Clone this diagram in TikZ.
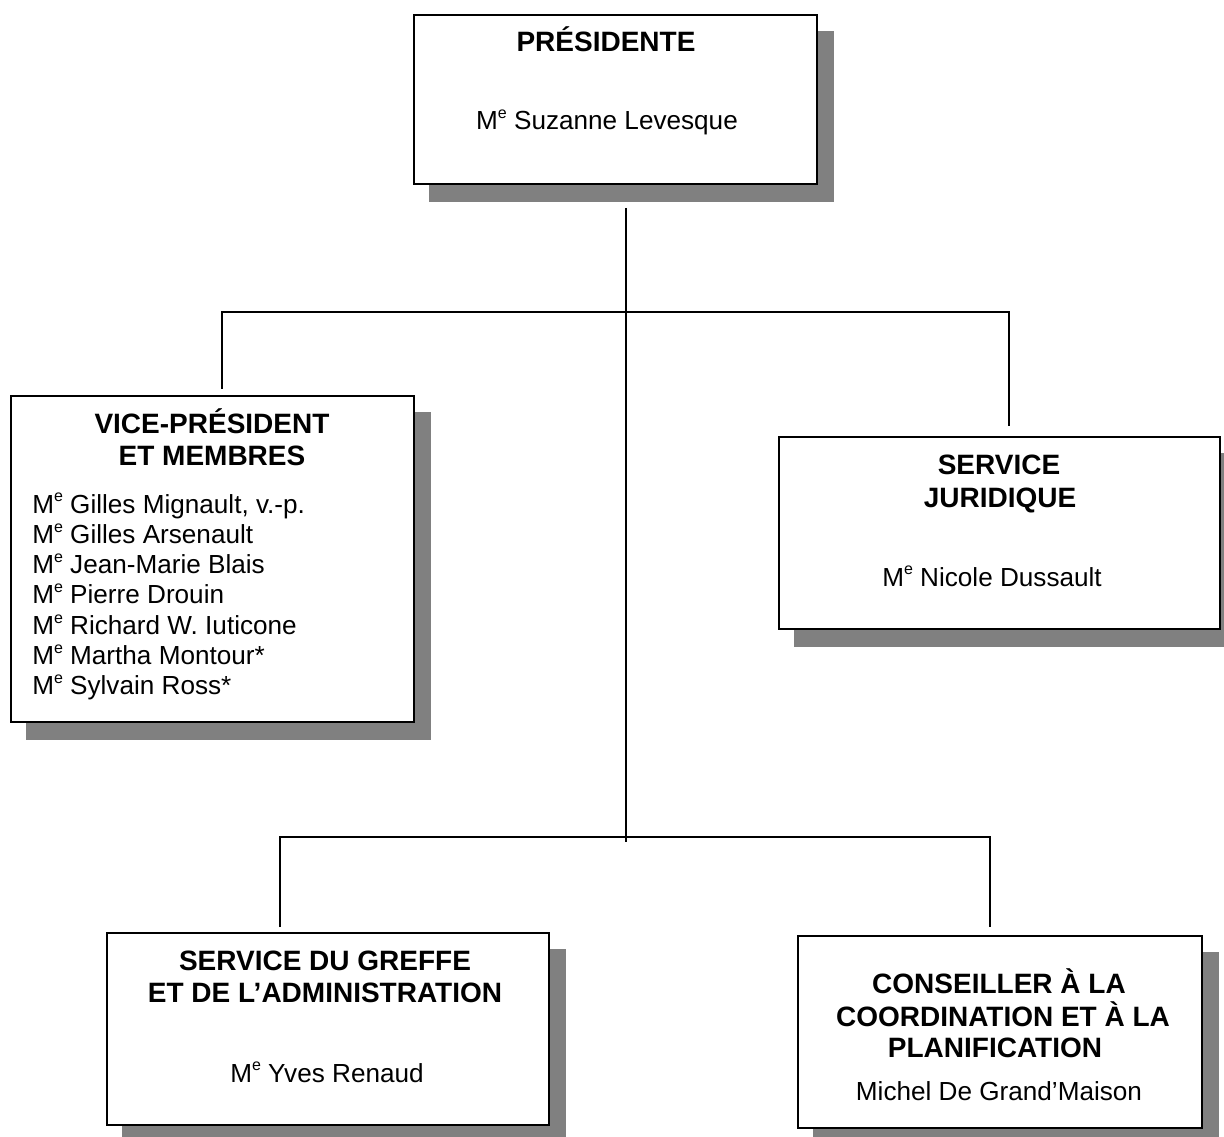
\documentclass[tikz,border=0pt]{standalone}
\usepackage{fontspec}
\setmainfont{Liberation Sans}
\usetikzlibrary{fit,backgrounds,calc}
\definecolor{shadowgray}{RGB}{128,128,128}
\newcommand{\Me}{M\raisebox{8.4pt}{\fontsize{12}{12}\selectfont e}}
\tikzset{
  box/.style={draw=black, line width=1.5pt, fill=white, inner sep=0pt},
  conn/.style={line width=2.2pt, draw=black, line join=miter},
  hd/.style={anchor=base, font=\fontsize{21}{25}\selectfont\bfseries, inner sep=0pt},
  nm/.style={anchor=base, font=\fontsize{19.6}{23}\selectfont, inner sep=0pt},
  lst/.style={anchor=base west, font=\fontsize{19.6}{23}\selectfont, inner sep=0pt},
  boxshadow/.style={fill=shadowgray, draw=none},
}
\begin{document}
\begin{tikzpicture}[x=0.75pt, y=-0.75pt]
\useasboundingbox (0,0) rectangle (1224,1137);

% boxes
\node[box, fit={(414,15) (817,184)}] (pres) {};
\node[box, fit={(11,396) (414,722)}] (vp) {};
\node[box, fit={(779,437) (1220,629)}] (jur) {};
\node[box, fit={(107,933) (549,1125)}] (gre) {};
\node[box, fit={(798,936) (1202,1128)}] (con) {};

\begin{scope}[on background layer]
  \foreach \n in {pres,vp,jur,gre,con}
    \path[boxshadow] ($(\n.south west)+(16,17)$) rectangle ($(\n.north east)+(16,17)$);
\end{scope}

% texts
\node[hd] (presT) at (606,52) {PRÉSIDENTE};
\node[nm] (presN) at (607,130) {\Me{} Suzanne Levesque};

\node[hd] (vpT1) at (212,433) {VICE-PRÉSIDENT};
\node[hd] (vpT2) at (212,465) {ET MEMBRES};
\node[lst] (vp1) at (32,513) {\Me{} Gilles Mignault, v.-p.};
\node[lst] (vp2) at (32,543.3) {\Me{} Gilles Arsenault};
\node[lst] (vp3) at (32,573.6) {\Me{} Jean-Marie Blais};
\node[lst] (vp4) at (32,603.9) {\Me{} Pierre Drouin};
\node[lst] (vp5) at (32,634.2) {\Me{} Richard W. Iuticone};
\node[lst] (vp6) at (32,664.5) {\Me{} Martha Montour*};
\node[lst] (vp7) at (32,694.8) {\Me{} Sylvain Ross*};

\node[hd] (jurT1) at (999,474) {SERVICE};
\node[hd] (jurT2) at (1000,507) {JURIDIQUE};
\node[nm] (jurN) at (992,586) {\Me{} Nicole Dussault};

\node[hd] (greT1) at (325,970) {SERVICE DU GREFFE};
\node[hd] (greT2) at (325,1002) {ET DE L’ADMINISTRATION};
\node[nm] (greN) at (327,1082) {\Me{} Yves Renaud};

\node[hd] (conT1) at (999,993) {CONSEILLER À LA};
\node[hd] (conT2) at (1003,1026) {COORDINATION ET À LA};
\node[hd] (conT3) at (995,1057) {PLANIFICATION};
\node[nm] (conN) at (999,1100) {Michel De Grand’Maison};

% connectors
\coordinate (t0) at (626,208);
\coordinate (t1) at (626,842);
\coordinate (bl) at (222,312);
\coordinate (br) at (1009,312);
\coordinate (cl) at (280,837);
\coordinate (cr) at (990,837);

\draw[conn] (t0) -- (t1);
\draw[conn] ($(vp.north -| bl)+(0,-6)$) -- (bl) -- (br) -- ($(jur.north -| br)+(0,-10)$);
\draw[conn] ($(gre.north -| cl)+(0,-5)$) -- (cl) -- (cr) -- ($(con.north -| cr)+(0,-8)$);
\end{tikzpicture}
\end{document}
